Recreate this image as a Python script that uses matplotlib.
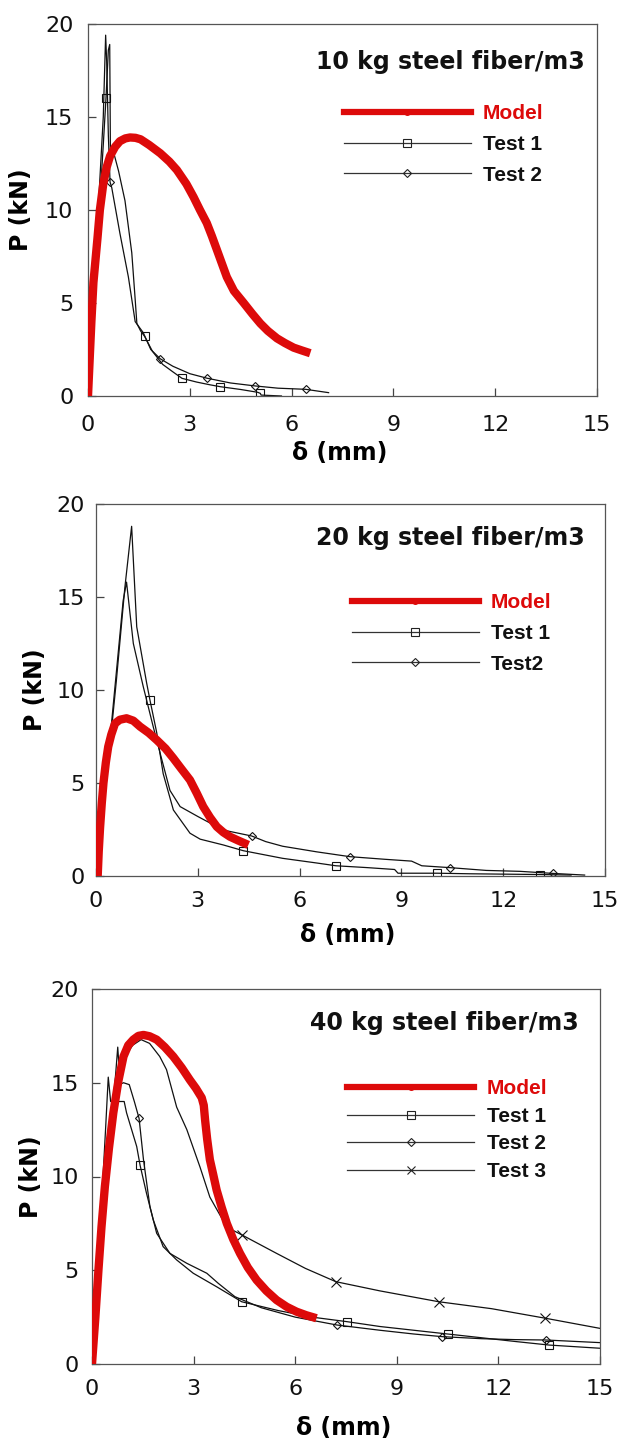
import matplotlib
matplotlib.use('Agg')
import matplotlib.pyplot as plt
from matplotlib.lines import Line2D

# ---------------- data ----------------
titles = ["10 kg steel fiber/m3", "20 kg steel fiber/m3", "40 kg steel fiber/m3"]
x_ticks = [0, 3, 6, 9, 12, 15]
y_ticks = [0, 5, 10, 15, 20]

# Panel 1 (10 kg)
p1_model_d = [0, 0.05, 0.1, 0.16, 0.22, 0.28, 0.35, 0.45, 0.55, 0.65, 0.8, 0.94, 1.1, 1.24, 1.4, 1.55, 1.8,
              2.13, 2.4, 2.62, 2.9, 3.11, 3.3, 3.5, 3.65, 3.8, 3.95, 4.09, 4.3, 4.59, 4.85, 5.08, 5.3, 5.57,
              5.8, 6.06, 6.3, 6.55]
p1_model_p = [0, 2.0, 4.0, 6.1, 7.3, 8.5, 10.0, 11.4, 12.3, 12.9, 13.4, 13.7, 13.85, 13.9, 13.88, 13.8, 13.5,
              13.05, 12.6, 12.15, 11.4, 10.7, 10.0, 9.3, 8.6, 7.85, 7.1, 6.4, 5.65, 5.0, 4.4, 3.9, 3.5, 3.1,
              2.85, 2.6, 2.45, 2.3]
p1_t1_d = [0, 0.15, 0.3, 0.45, 0.53, 0.6, 0.64, 0.66, 0.74, 0.9, 1.09, 1.29, 1.39, 1.44, 1.55, 1.67, 1.9, 2.2,
           2.5, 2.77, 3.2, 3.6, 3.9, 4.5, 5.0, 5.08, 5.1, 5.7]
p1_t1_p = [0, 4.5, 9.0, 13.5, 16.0, 18.6, 18.9, 13.3, 13.2, 12.1, 10.5, 7.7, 5.2, 3.9, 3.5, 3.2, 2.4, 1.7,
           1.3, 0.95, 0.75, 0.6, 0.5, 0.35, 0.2, 0.14, 0.05, 0.0]
p1_t1_marks = [4, 15, 19, 22, 25]
p1_t2_d = [0, 0.15, 0.3, 0.45, 0.52, 0.55, 0.6, 0.65, 0.7, 0.94, 1.19, 1.39, 1.63, 1.85, 2.13, 2.5, 3.0, 3.5,
           4.2, 4.93, 5.6, 6.41, 7.09]
p1_t2_p = [0, 5.0, 10.0, 15.0, 19.4, 18.0, 14.0, 11.5, 11.2, 8.75, 6.4, 4.0, 3.4, 2.5, 2.0, 1.6, 1.2, 0.96,
           0.7, 0.54, 0.42, 0.36, 0.18]
p1_t2_marks = [7, 14, 17, 19, 21]

# Panel 2 (20 kg)
p2_model_d = [0.05, 0.08, 0.12, 0.17, 0.22, 0.29, 0.36, 0.45, 0.56, 0.7, 0.9, 1.1, 1.3, 1.55, 1.79, 2.05,
              2.28, 2.5, 2.77, 2.97, 3.16, 3.36, 3.56, 3.75, 3.95, 4.2, 4.49]
p2_model_p = [0, 1.3, 2.6, 3.9, 5.0, 6.1, 6.95, 7.6, 8.2, 8.4, 8.48, 8.35, 8.03, 7.7, 7.31, 6.85,
              6.33, 5.8, 5.16, 4.45, 3.73, 3.15, 2.65, 2.35, 2.11, 1.9, 1.67]
p2_t1_d = [0.05, 0.3, 0.6, 0.85, 1.05, 1.2, 1.49, 1.59, 1.79, 1.98, 2.28, 2.77, 3.07, 3.75, 4.34, 5.5, 6.5,
           7.07, 8.0, 8.8, 8.9, 10.05, 11.0, 12.0, 13.07, 14.0]
p2_t1_p = [0, 5.0, 10.5, 15.5, 18.8, 13.4, 10.4, 9.46, 7.7, 5.5, 3.55, 2.3, 1.98, 1.67, 1.36, 0.95, 0.7,
           0.55, 0.45, 0.35, 0.15, 0.15, 0.12, 0.1, 0.08, 0.05]
p2_t1_marks = [7, 14, 17, 21, 24]
p2_t2_d = [0.05, 0.3, 0.55, 0.8, 0.9, 1.1, 1.39, 1.69, 1.89, 2.18, 2.48, 3.0, 3.75, 4.59, 5.0, 5.5, 6.0,
           6.5, 7.48, 8.5, 9.3, 9.6, 10.43, 11.5, 12.5, 13.46, 14.4]
p2_t2_p = [0, 5.2, 10.0, 14.8, 15.8, 12.5, 10.2, 8.0, 6.6, 4.6, 3.73, 3.2, 2.47, 2.15, 1.85, 1.6, 1.45,
           1.3, 1.04, 0.9, 0.8, 0.55, 0.45, 0.3, 0.25, 0.14, 0.05]
p2_t2_marks = [13, 18, 22, 25]

# Panel 3 (40 kg)
p3_model_d = [0, 0.1, 0.19, 0.28, 0.38, 0.5, 0.63, 0.78, 0.93, 1.07, 1.22, 1.37, 1.52, 1.7, 1.91, 2.15,
              2.4, 2.65, 2.89, 3.07, 3.24, 3.3, 3.34, 3.4, 3.48, 3.58, 3.68, 3.83, 3.98, 4.17, 4.37, 4.6,
              4.86, 5.15, 5.45, 5.75, 6.04, 6.33, 6.63]
p3_model_p = [0, 2.5, 5.0, 7.3, 9.46, 11.5, 13.4, 15.1, 16.4, 17.0, 17.3, 17.5, 17.55, 17.48, 17.3, 16.9,
              16.4, 15.8, 15.15, 14.7, 14.2, 13.8, 13.0, 12.0, 10.9, 10.1, 9.28, 8.35, 7.5, 6.65, 5.9, 5.15,
              4.48, 3.9, 3.41, 3.05, 2.79, 2.6, 2.44]
p3_t1_d = [0.05, 0.25, 0.4, 0.48, 0.55, 0.95, 1.02, 1.32, 1.42, 1.61, 1.81, 2.1, 2.5, 2.99, 3.68, 4.42, 5.5,
           6.5, 7.52, 8.5, 9.5, 10.5, 11.5, 12.5, 13.5, 15.0]
p3_t1_p = [0, 7.5, 12.5, 15.3, 14.0, 14.0, 13.4, 11.6, 10.6, 9.1, 7.68, 6.26, 5.55, 4.84, 4.12, 3.32, 2.85,
           2.5, 2.26, 2.0, 1.8, 1.6, 1.4, 1.2, 1.01, 0.84]
p3_t1_marks = [8, 15, 18, 21, 24]
p3_t2_d = [0.05, 0.3, 0.5, 0.7, 0.8, 0.93, 1.1, 1.25, 1.39, 1.52, 1.71, 1.91, 2.3, 2.8, 3.39, 3.73, 4.22,
           5.0, 6.0, 7.23, 8.5, 9.5, 10.33, 11.5, 12.5, 13.4, 15.0]
p3_t2_p = [0, 8.0, 12.0, 14.0, 14.9, 15.0, 14.9, 14.0, 13.1, 10.9, 8.4, 6.97, 5.9, 5.37, 4.84, 4.3, 3.59,
           3.0, 2.5, 2.08, 1.8, 1.6, 1.46, 1.35, 1.3, 1.28, 1.14]
p3_t2_marks = [8, 19, 22, 25]
p3_t3_d = [0.05, 0.3, 0.55, 0.7, 0.76, 0.8, 0.95, 1.2, 1.45, 1.7, 2.0, 2.2, 2.5, 2.8, 3.19, 3.48, 3.98,
           4.43, 5.45, 6.3, 7.2, 8.5, 10.24, 11.8, 13.39, 15.0]
p3_t3_p = [0, 7.5, 12.5, 15.5, 16.9, 15.8, 16.3, 17.0, 17.3, 17.1, 16.4, 15.7, 13.7, 12.5, 10.5, 8.9, 7.3,
           6.88, 5.9, 5.1, 4.39, 3.9, 3.32, 2.95, 2.44, 1.9]
p3_t3_marks = [17, 20, 22, 24]

labels1 = ["Model", "Test 1", "Test 2"]
labels2 = ["Model", "Test 1", "Test2"]
labels3 = ["Model", "Test 1", "Test 2", "Test 3"]

# ---------------- style ----------------
RED = '#dd0a0a'
BLK = '#111111'
FW, FH = 620, 1439
SANS = ['DejaVu Sans']
LEG = ['Liberation Sans', 'DejaVu Sans']

fig = plt.figure(figsize=(FW / 100, FH / 100), dpi=100)

# axes boxes in pixels: left, top, right, bottom
boxes = [(88, 24, 597, 396), (96, 504, 605, 876), (92, 989, 600, 1364)]
xtick_pad = [13.5, 10.5, 10.5]
ytick_pad = [10.5, 8.0, 9.5]
ylab_x = [-0.108, -0.096, -0.096]
xlab_y = [-0.121, -0.126, -0.139]
title_pos = [(0.976, 0.898), (0.961, 0.909), (0.959, 0.909)]
leg_anchor = [(0.502, 0.784), (0.502, 0.760), (0.502, 0.759)]
leg_spacing = [0.56, 0.56, 0.41]

markers = ['s', 'D', 'x']
msizes = [6, 4.2, 6.5]

panels = [
    (titles[0], (p1_model_d, p1_model_p),
     [(p1_t1_d, p1_t1_p, p1_t1_marks), (p1_t2_d, p1_t2_p, p1_t2_marks)], labels1),
    (titles[1], (p2_model_d, p2_model_p),
     [(p2_t1_d, p2_t1_p, p2_t1_marks), (p2_t2_d, p2_t2_p, p2_t2_marks)], labels2),
    (titles[2], (p3_model_d, p3_model_p),
     [(p3_t1_d, p3_t1_p, p3_t1_marks), (p3_t2_d, p3_t2_p, p3_t2_marks),
      (p3_t3_d, p3_t3_p, p3_t3_marks)], labels3),
]

for i, (title, model, tests, labels) in enumerate(panels):
    l, t, r, b = boxes[i]
    ax = fig.add_axes([l / FW, 1 - b / FH, (r - l) / FW, (b - t) / FH])
    ax.set_xlim(0, 15)
    ax.set_ylim(0, 20)
    ax.set_xticks(x_ticks)
    ax.set_yticks(y_ticks)
    for s in ax.spines.values():
        s.set_color('#555555')
        s.set_linewidth(0.9)
    ax.tick_params(axis='both', direction='in', length=6, width=0.9,
                   color='#444444', labelsize=16, labelcolor='#111111')
    ax.tick_params(axis='x', pad=xtick_pad[i])
    ax.tick_params(axis='y', pad=ytick_pad[i])
    for lab in ax.get_xticklabels() + ax.get_yticklabels():
        lab.set_family(SANS)

    # test curves
    for j, (d, p, mk) in enumerate(tests):
        ax.plot(d, p, color=BLK, lw=0.9, zorder=2,
                marker=markers[j], markevery=mk, ms=msizes[j],
                mfc='none', mec=BLK, mew=0.8)
    # model
    ax.plot(model[0], model[1], color=RED, lw=6, solid_capstyle='butt',
            solid_joinstyle='round', zorder=3)

    handles = [Line2D([], [], color=RED, lw=4.5, marker='o', ms=4, mfc=RED, mec=RED)]
    for j in range(len(tests)):
        handles.append(Line2D([], [], color='#333333', lw=0.9, marker=markers[j],
                              ms=msizes[j] * 0.9, mfc='none', mec='#222222', mew=0.8))
    leg = ax.legend(handles, labels, loc='upper left', bbox_to_anchor=leg_anchor[i],
                    frameon=False, handlelength=6.1, handletextpad=0.6,
                    labelspacing=leg_spacing[i], borderpad=0, borderaxespad=0,
                    numpoints=1, prop={'family': LEG, 'weight': 'bold', 'size': 15})
    for k, txt in enumerate(leg.get_texts()):
        txt.set_color(RED if k == 0 else '#111111')

    ax.text(title_pos[i][0], title_pos[i][1], title, transform=ax.transAxes,
            ha='right', va='center', fontsize=17, fontweight='bold',
            family=SANS, color='#111111')

    ax.set_ylabel('P (kN)', fontsize=17, fontweight='bold', family=SANS)
    ax.set_xlabel('δ (mm)', fontsize=17, fontweight='bold', family=SANS)
    ax.yaxis.set_label_coords(ylab_x[i], 0.5)
    ax.xaxis.set_label_coords(0.495, xlab_y[i])

fig.savefig('out.png', dpi=100)
